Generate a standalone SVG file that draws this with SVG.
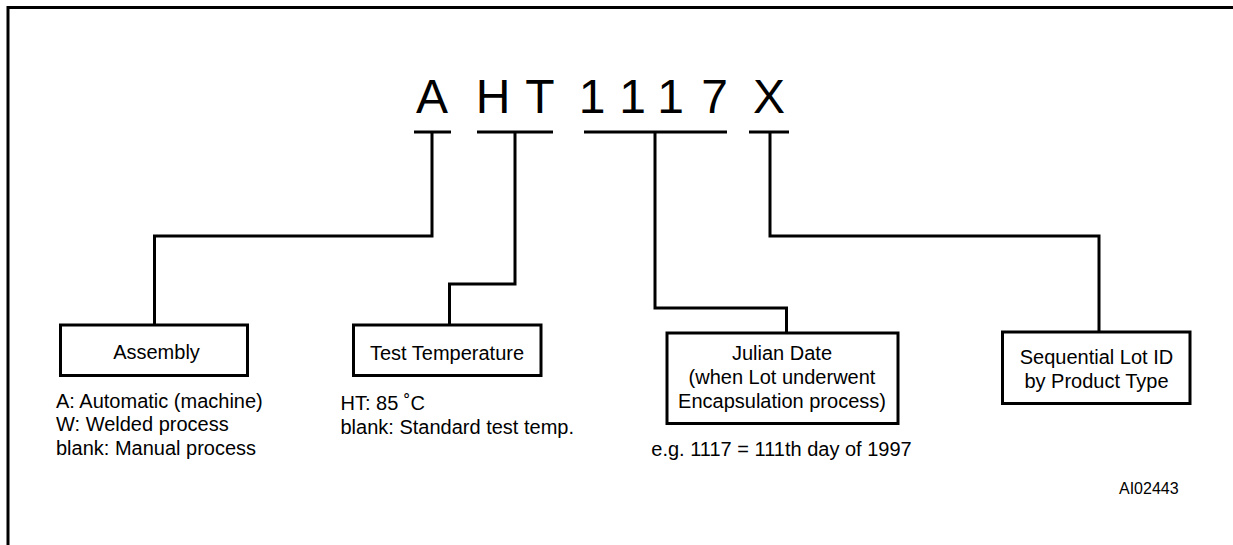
<svg xmlns="http://www.w3.org/2000/svg" width="1233" height="545" viewBox="0 0 1233 545">
<style>
.frame{fill:none;stroke:#000;stroke-width:3}
.ln{fill:none;stroke:#000;stroke-width:3;stroke-linecap:butt;stroke-linejoin:miter}
.box{fill:#fff;stroke:#000;stroke-width:3}
.big{font-family:"Liberation Sans",Arial,sans-serif;font-size:48px;fill:#000;text-anchor:middle}
.lbl{font-family:"Liberation Sans",Arial,sans-serif;font-size:20px;fill:#000}
.c{text-anchor:middle}
.ref{font-family:"Liberation Sans",Arial,sans-serif;font-size:16px;fill:#000}
</style>
<rect width="1233" height="545" fill="#fff"/>
<path class="frame" d="M8,560 V7.5 H1240"/>
<g id="code">
<text class="big" x="432" y="112.5">A</text>
<text class="big" x="493" y="112.5">H</text>
<text class="big" x="540" y="112.5">T</text>
<text class="big" x="592" y="112.5">1</text>
<text class="big" x="632.5" y="112.5">1</text>
<text class="big" x="670.5" y="112.5">1</text>
<text class="big" x="714.5" y="112.5">7</text>
<text class="big" x="769" y="112.5">X</text>
</g>
<g id="connectors">
<path class="ln" d="M414,132 H451 M477,132 H553 M584,132 H727 M749,132 H789"/>
<path class="ln" d="M432,132 V236 H154.5 V325"/>
<path class="ln" d="M515,132 V284 H449.5 V325"/>
<path class="ln" d="M655,132 V308 H786.5 V333"/>
<path class="ln" d="M770,132 V236 H1099 V332"/>
</g>
<g id="assembly">
<rect class="box" x="60.5" y="325" width="187" height="50.5"/>
<text class="lbl c" x="156.5" y="359">Assembly</text>
<text class="lbl" x="56" y="407.5">A: Automatic (machine)</text>
<text class="lbl" x="56" y="431">W: Welded process</text>
<text class="lbl" x="56" y="454.5">blank: Manual process</text>
</g>
<g id="test-temperature">
<rect class="box" x="353.5" y="325" width="187.5" height="50.5"/>
<text class="lbl c" x="447" y="359.5">Test Temperature</text>
<text class="lbl" x="340.5" y="409.5">HT: 85 ˚C</text>
<text class="lbl" x="340.5" y="433.5">blank: Standard test temp.</text>
</g>
<g id="julian-date">
<rect class="box" x="667" y="333" width="231" height="90.5"/>
<text class="lbl c" x="782" y="360">Julian Date</text>
<text class="lbl c" x="782" y="383.5">(when Lot underwent</text>
<text class="lbl c" x="782" y="407.5">Encapsulation process)</text>
<text class="lbl c" x="781.5" y="456">e.g. 1117 = 111th day of 1997</text>
</g>
<g id="lot-id">
<rect class="box" x="1002.5" y="332" width="187.5" height="71.5"/>
<text class="lbl c" x="1096.5" y="363.5">Sequential Lot ID</text>
<text class="lbl c" x="1096.5" y="387.5">by Product Type</text>
</g>
<text class="ref" x="1119" y="493.5">AI02443</text>
</svg>
